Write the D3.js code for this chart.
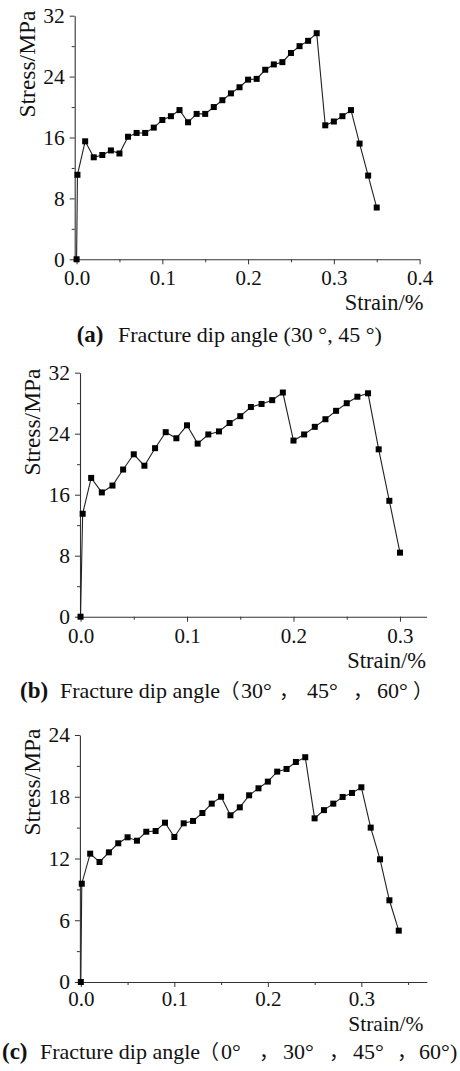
<!DOCTYPE html>
<html>
<head>
<meta charset="utf-8">
<script src="https://cdn.jsdelivr.net/npm/d3@7"></script>
<style>
  html, body { margin: 0; padding: 0; background: #fff; }
  svg { display: block; }
  text { font-family: "Liberation Serif", "Times New Roman", serif; fill: #111; }
</style>
</head>
<body>
<script>
// ---------- data ----------
const strainA = [0, 0.001, 0.01, 0.02, 0.03, 0.04, 0.05, 0.06, 0.07, 0.08, 0.09, 0.10, 0.11, 0.12, 0.13, 0.14, 0.15, 0.16, 0.17, 0.18, 0.19, 0.20, 0.21, 0.22, 0.23, 0.24, 0.25, 0.26, 0.27, 0.28, 0.29, 0.30, 0.31, 0.32, 0.33, 0.34, 0.35];
const stressA = [0, 11.1, 15.5, 13.4, 13.7, 14.3, 13.9, 16.1, 16.6, 16.6, 17.3, 18.3, 18.8, 19.6, 18.0, 19.1, 19.1, 20.0, 20.9, 21.8, 22.6, 23.6, 23.7, 24.9, 25.6, 25.9, 27.1, 28.0, 28.7, 29.7, 17.6, 18.1, 18.8, 19.6, 15.2, 11.0, 6.8];

const strainB = [0, 0.002, 0.01, 0.02, 0.03, 0.04, 0.05, 0.06, 0.07, 0.08, 0.09, 0.10, 0.11, 0.12, 0.13, 0.14, 0.15, 0.16, 0.17, 0.18, 0.19, 0.20, 0.21, 0.22, 0.23, 0.24, 0.25, 0.26, 0.27, 0.28, 0.29, 0.30];
const stressB = [0, 13.5, 18.2, 16.3, 17.2, 19.3, 21.3, 19.8, 22.1, 24.2, 23.4, 25.1, 22.7, 23.9, 24.3, 25.4, 26.3, 27.5, 27.9, 28.4, 29.4, 23.1, 23.9, 24.9, 25.9, 27.0, 28.0, 28.85, 29.3, 21.95, 15.2, 8.4];

const strainC = [0, 0.001, 0.01, 0.02, 0.03, 0.04, 0.05, 0.06, 0.07, 0.08, 0.09, 0.10, 0.11, 0.12, 0.13, 0.14, 0.15, 0.16, 0.17, 0.18, 0.19, 0.20, 0.21, 0.22, 0.23, 0.24, 0.25, 0.26, 0.27, 0.28, 0.29, 0.30, 0.31, 0.32, 0.33, 0.34];
const stressC = [0, 9.55, 12.47, 11.66, 12.6, 13.48, 14.06, 13.73, 14.6, 14.67, 15.48, 14.09, 15.42, 15.65, 16.42, 17.33, 18.0, 16.2, 16.97, 18.14, 18.82, 19.47, 20.44, 20.7, 21.38, 21.84, 15.9, 16.7, 17.33, 17.98, 18.37, 18.92, 15.0, 11.92, 7.94, 4.99];

const xTicksA = [0, 0.1, 0.2, 0.3, 0.4];
const xMinorA = [0.05, 0.15, 0.25, 0.35];
const yTicksA = [0, 8, 16, 24, 32];
const yMinorA = [4, 12, 20, 28];

const xTicksB = [0, 0.1, 0.2, 0.3];
const xMinorB = [0.05, 0.15, 0.25];
const yTicksB = [0, 8, 16, 24, 32];
const yMinorB = [4, 12, 20, 28];

const xTicksC = [0, 0.1, 0.2, 0.3];
const xMinorC = [0.05, 0.15, 0.25, 0.35];
const yTicksC = [0, 6, 12, 18, 24];
const yMinorC = [3, 9, 15, 21];

const xTitle = "Strain/%";
const yTitle = "Stress/MPa";

// ---------- layout ----------
const W = 460, H = 1071;
const svg = d3.select("body").append("svg").attr("width", W).attr("height", H);
svg.append("rect").attr("width", W).attr("height", H).attr("fill", "#fff");

const panels = [
  { strain: strainA, stress: stressA, xT: xTicksA, xM: xMinorA, yT: yTicksA, yM: yMinorA,
    xDom: [-0.0022, 0.4], xRng: [74.7, 419.6], yDom: [0, 32], yRng: [259.3, 15.7],
    yTitleX: 27, yTitleY: 64, xTitleY: 309.5, xTitleX: 423.5, xTitleSize: 22.5, pad: 6 },
  { strain: strainB, stress: stressB, xT: xTicksB, xM: xMinorB, yT: yTicksB, yM: yMinorB,
    xDom: [-0.0005, 0.325], xRng: [80, 426.6], yDom: [0, 32], yRng: [616.7, 372.7],
    yTitleX: 31.5, yTitleY: 422, xTitleY: 668, xTitleX: 426, xTitleSize: 22.5, pad: 6 },
  { strain: strainC, stress: stressC, xT: xTicksC, xM: xMinorC, yT: yTicksC, yM: yMinorC,
    xDom: [-0.001, 0.37], xRng: [79.9, 426.8], yDom: [0, 24], yRng: [982, 735],
    yTitleX: 31.5, yTitleY: 782, xTitleY: 1030.5, xTitleX: 423.5, xTitleSize: 21.5, pad: 4.5 }
];

const axisColor = "#333";

panels.forEach(p => {
  const x = d3.scaleLinear().domain(p.xDom).range(p.xRng);
  const y = d3.scaleLinear().domain(p.yDom).range(p.yRng);
  const g = svg.append("g");
  const y0 = y(p.yDom[0]);
  const x0 = x(p.xDom[0]);

  // X axis
  const xAxis = d3.axisBottom(x).tickValues(p.xT).tickFormat(d3.format(".1f"))
    .tickSize(5).tickSizeOuter(0).tickPadding(p.pad);
  const gx = g.append("g").attr("transform", `translate(0,${y0})`).call(xAxis);
  gx.select(".domain").attr("stroke", axisColor).attr("stroke-width", 1.1);
  gx.selectAll(".tick line").attr("stroke", axisColor);
  gx.selectAll(".tick text").attr("font-size", 21).attr("font-family", "Liberation Serif").attr("fill", "#111");
  const xMinor = d3.axisBottom(x).tickValues(p.xM).tickFormat("").tickSize(3).tickSizeOuter(0);
  const gxm = g.append("g").attr("transform", `translate(0,${y0})`).call(xMinor);
  gxm.select(".domain").remove();
  gxm.selectAll(".tick line").attr("stroke", axisColor);

  // Y axis
  const yAxis = d3.axisLeft(y).tickValues(p.yT).tickFormat(d3.format("d"))
    .tickSize(5).tickSizeOuter(0).tickPadding(5);
  const gy = g.append("g").attr("transform", `translate(${x0},0)`).call(yAxis);
  gy.select(".domain").attr("stroke", axisColor).attr("stroke-width", 1.1);
  gy.selectAll(".tick line").attr("stroke", axisColor);
  gy.selectAll(".tick text").attr("font-size", 21.5).attr("font-family", "Liberation Serif").attr("fill", "#111");
  const yMinor = d3.axisLeft(y).tickValues(p.yM).tickFormat("").tickSize(3).tickSizeOuter(0);
  const gym = g.append("g").attr("transform", `translate(${x0},0)`).call(yMinor);
  gym.select(".domain").remove();
  gym.selectAll(".tick line").attr("stroke", axisColor);

  // Titles
  g.append("text")
    .attr("transform", `translate(${p.yTitleX},${p.yTitleY}) rotate(-90)`)
    .attr("text-anchor", "middle").attr("dominant-baseline", "central")
    .attr("font-size", 23.5).text(yTitle);
  g.append("text")
    .attr("x", p.xTitleX).attr("y", p.xTitleY)
    .attr("text-anchor", "end").attr("font-size", p.xTitleSize).text(xTitle);

  // Data
  const pts = p.strain.map((s, i) => [s, p.stress[i]]);
  const line = d3.line().x(d => x(d[0])).y(d => y(d[1]));
  g.append("path").datum(pts).attr("d", line)
    .attr("fill", "none").attr("stroke", "#222").attr("stroke-width", 1.1);
  const ms = 6;
  g.selectAll("rect.m").data(pts).enter().append("rect")
    .attr("x", d => x(d[0]) - ms / 2).attr("y", d => y(d[1]) - ms / 2)
    .attr("width", ms).attr("height", ms).attr("fill", "#000");
});

// ---------- captions ----------
const captions = [
  { y: 342, label: "(a)", labelX: 76.7,
    parts: [["Fracture dip angle (30 °, 45 °)", 118]] },
  { y: 698, label: "(b)", labelX: 20,
    parts: [["Fracture dip angle", 60], ["（", 219.5], ["30°", 241], ["，", 279], ["45°", 307], ["，", 353], ["60°", 377], ["）", 413]] },
  { y: 1058.5, label: "(c)", labelX: 2,
    parts: [["Fracture dip angle", 40], ["（", 199], ["0°", 221], ["，", 259], ["30°", 283], ["，", 329], ["45°", 353], ["，", 397], ["60°", 419], [")", 450]] }
];
captions.forEach(c => {
  const t = svg.append("text").attr("y", c.y).attr("font-size", 22);
  t.append("tspan").attr("x", c.labelX).attr("font-weight", "bold").attr("font-size", 23).text(c.label);
  c.parts.forEach(([s, px]) => {
    const isCJK = /[（），]/.test(s);
    t.append("tspan").attr("x", px)
      .attr("font-family", isCJK ? "Noto Sans CJK SC" : "Liberation Serif")
      .attr("font-size", isCJK ? 20 : 22)
      .text(s);
  });
});
</script>
</body>
</html>
